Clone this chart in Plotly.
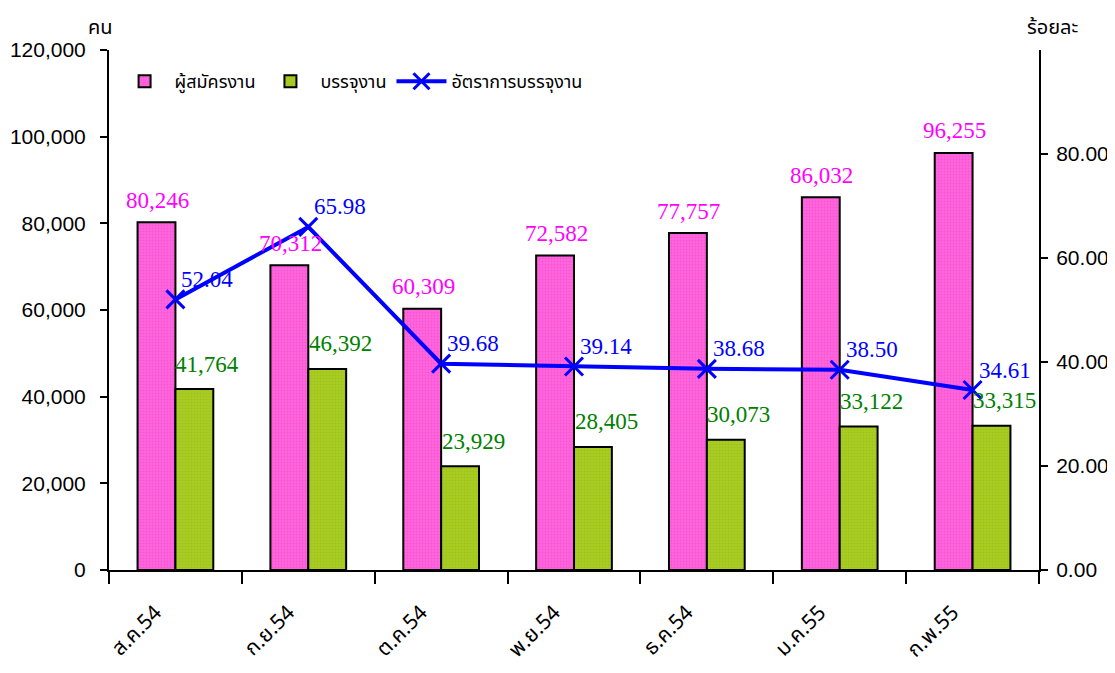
import plotly.graph_objects as go

months = ["ส.ค.54", "ก.ย.54", "ต.ค.54", "พ.ย.54", "ธ.ค.54", "ม.ค.55", "ก.พ.55"]
applicants = [80246, 70312, 60309, 72582, 77757, 86032, 96255]
placed = [41764, 46392, 23929, 28405, 30073, 33122, 33315]
rate = [52.04, 65.98, 39.68, 39.14, 38.68, 38.50, 34.61]

name_app = "ผู้สมัครงาน"
name_placed = "บรรจุงาน"
name_rate = "อัตราการบรรจุงาน"

PINK = "#FF66DD"
GREEN = "#A8CC22"
THAI = "Noto Sans Thai, Tahoma, Loma, Garuda, sans-serif"
SERIF = "Liberation Serif, Times New Roman, serif"
SANS = "Liberation Sans, Arial, sans-serif"

fig = go.Figure()
fig.add_trace(go.Bar(
    x=months, y=applicants, name=name_app,
    marker=dict(color=PINK, line=dict(color="black", width=2),
                pattern=dict(shape=".", fgcolor="#F040C8", bgcolor=PINK, size=3, solidity=0.3)),
))
fig.add_trace(go.Bar(
    x=months, y=placed, name=name_placed,
    marker=dict(color=GREEN, line=dict(color="black", width=2),
                pattern=dict(shape=".", fgcolor="#96B818", bgcolor=GREEN, size=3, solidity=0.3)),
))
fig.add_trace(go.Scatter(
    x=months, y=rate, name=name_rate, yaxis="y2", mode="lines+markers",
    line=dict(color="#0000FF", width=4),
    marker=dict(symbol="x-thin", size=18, color="#0000FF", line=dict(color="#0000FF", width=3)),
))

ann = []
for m, a, p, r in zip(months, applicants, placed, rate):
    ann.append(dict(x=m, y=a, xref="x", yref="y", text=f"{a:,}", showarrow=False,
                    xshift=-18, yshift=22, font=dict(family=SERIF, size=23, color="#FF00FF")))
    ann.append(dict(x=m, y=p, xref="x", yref="y", text=f"{p:,}", showarrow=False,
                    xshift=32, yshift=25, font=dict(family=SERIF, size=23, color="#008000")))
    ann.append(dict(x=m, y=r, xref="x", yref="y2", text=f"{r:.2f}", showarrow=False,
                    xshift=32, yshift=20, font=dict(family=SERIF, size=23, color="#0000FF")))

# page shows an 8px body margin, so the figure is drawn offset by 8px
OFF = 8
W, H = 1115 - OFF, 673 - OFF
L, R, T, B = 109 - OFF, 76, 50 - OFF, 103
pw, ph = W - L - R, H - T - B


def px_to_paper(xp, yp):
    return (xp - OFF - L) / pw, 1 - (yp - OFF - T) / ph


for txt, (xp, yp) in [("คน", (100, 28)), ("ร้อยละ", (1052, 28))]:
    xx, yy = px_to_paper(xp, yp)
    ann.append(dict(x=xx, y=yy, xref="paper", yref="paper", text=txt, showarrow=False,
                    xanchor="center", yanchor="middle",
                    font=dict(family=THAI, size=20, color="black")))

fig.update_layout(
    width=W, height=H,
    margin=dict(l=L, r=R, t=T, b=B, autoexpand=False),
    paper_bgcolor="white", plot_bgcolor="white",
    barmode="group", bargap=0.43, bargroupgap=0,
    showlegend=True,
    legend=dict(orientation="h", x=0.006, y=0.975, xanchor="left", yanchor="top",
                font=dict(family=THAI, size=18, color="black"), bgcolor="rgba(0,0,0,0)",
                traceorder="normal", itemwidth=50, entrywidth=0),
    xaxis=dict(type="category", categoryorder="array", categoryarray=months,
               tickson="boundaries", ticks="outside", ticklen=12, tickwidth=2, tickcolor="black",
               showline=True, linecolor="black", linewidth=2, showgrid=False,
               tickangle=-45, ticklabelstandoff=20, ticklabelshift=-20, automargin=False,
               tickfont=dict(family=THAI, size=21, color="black")),
    yaxis=dict(range=[0, 120000], tickvals=[0, 20000, 40000, 60000, 80000, 100000, 120000],
               ticktext=["0", "20,000", "40,000", "60,000", "80,000", "100,000", "120,000"],
               ticks="outside", ticklen=7, tickwidth=2, tickcolor="black",
               showline=True, linecolor="black", linewidth=2, showgrid=False, zeroline=False,
               ticklabelstandoff=10, automargin=False,
               tickfont=dict(family=SANS, size=21, color="black")),
    yaxis2=dict(range=[0, 100], overlaying="y", side="right",
                tickvals=[0, 20, 40, 60, 80], ticktext=["0.00", "20.00", "40.00", "60.00", "80.00"],
                ticks="outside", ticklen=7, tickwidth=2, tickcolor="black",
                showline=True, linecolor="black", linewidth=2, showgrid=False, zeroline=False,
                ticklabelstandoff=4, automargin=False,
                tickfont=dict(family=SANS, size=21, color="black")),
    annotations=ann,
)

fig.write_html("out.html")
